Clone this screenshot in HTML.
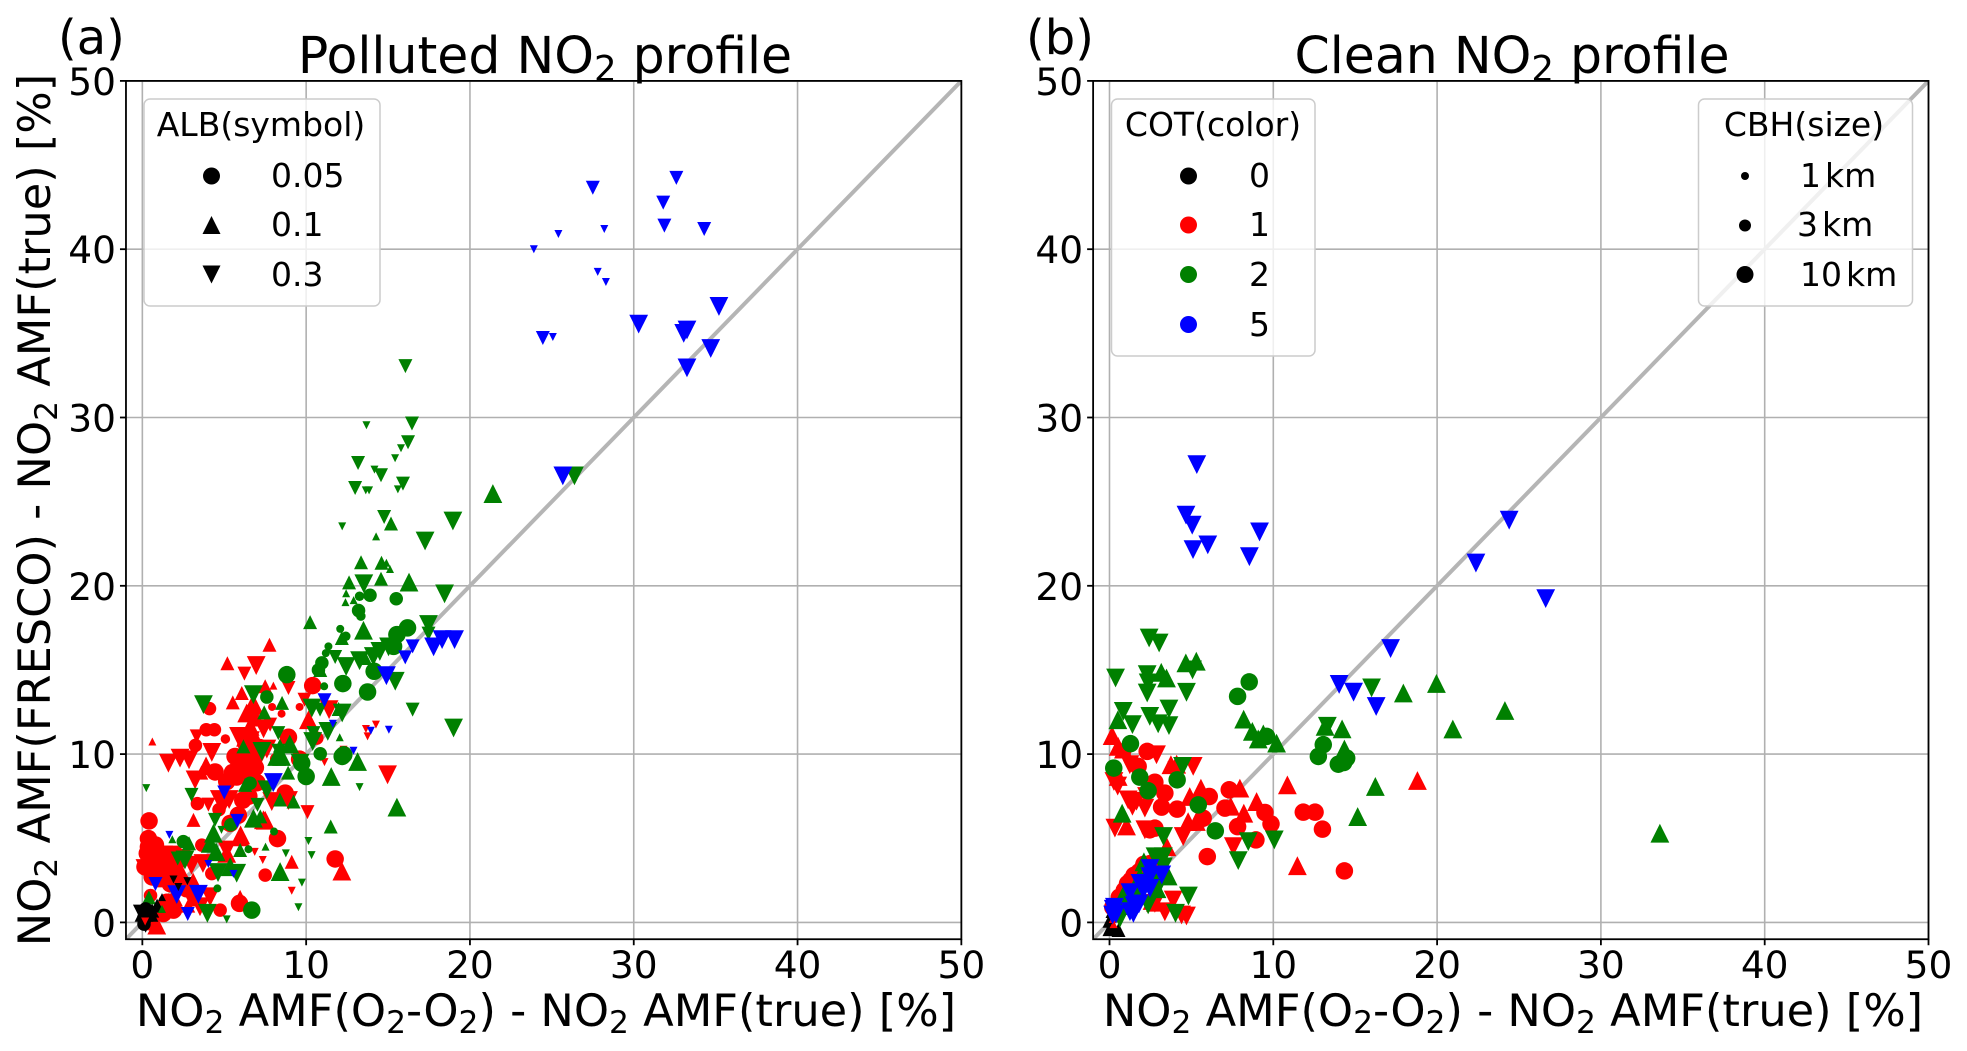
<!DOCTYPE html>
<html lang="en">
<head>
<meta charset="utf-8">
<title>NO2 AMF scatter comparison</title>
<style>
html,body{margin:0;padding:0;background:#fff;}
svg{display:block;font-family:"DejaVu Sans","Liberation Sans",sans-serif;}
</style>
</head>
<body>
<svg id="figure" xmlns="http://www.w3.org/2000/svg" width="1967" height="1051" viewBox="0 0 1967 1051">
  <rect x="0" y="0" width="1967" height="1051" fill="#fff"/>
  <defs>
    <clipPath id="clip-a"><rect x="126" y="81" width="835" height="858.5"/></clipPath>
    <clipPath id="clip-b"><rect x="1093.5" y="81" width="835.5" height="858.5"/></clipPath>
  </defs>
  <g id="panel-a"></g>
  <g id="panel-b"></g>

  <text x="58" y="54" font-size="48">(a)</text>
  <text x="1026" y="54" font-size="48">(b)</text>

  <text x="545" y="73" font-size="50.5" text-anchor="middle">Polluted NO<tspan dy="8" font-size="35.5">2</tspan><tspan dy="-8"> profile</tspan></text>
  <text x="1512" y="73" font-size="50.5" text-anchor="middle">Clean NO<tspan dy="8" font-size="35.5">2</tspan><tspan dy="-8"> profile</tspan></text>

  <text x="546" y="1026" font-size="44.7" text-anchor="middle">NO<tspan dy="7" font-size="31.3">2</tspan><tspan dy="-7"> AMF(O</tspan><tspan dy="7" font-size="31.3">2</tspan><tspan dy="-7">-O</tspan><tspan dy="7" font-size="31.3">2</tspan><tspan dy="-7">) - NO</tspan><tspan dy="7" font-size="31.3">2</tspan><tspan dy="-7"> AMF(true) [%]</tspan></text>
  <text x="1513" y="1026" font-size="44.7" text-anchor="middle">NO<tspan dy="7" font-size="31.3">2</tspan><tspan dy="-7"> AMF(O</tspan><tspan dy="7" font-size="31.3">2</tspan><tspan dy="-7">-O</tspan><tspan dy="7" font-size="31.3">2</tspan><tspan dy="-7">) - NO</tspan><tspan dy="7" font-size="31.3">2</tspan><tspan dy="-7"> AMF(true) [%]</tspan></text>
  <text transform="translate(50,510) rotate(-90)" font-size="44.7" text-anchor="middle">NO<tspan dy="7" font-size="31.3">2</tspan><tspan dy="-7"> AMF(FRESCO) - NO</tspan><tspan dy="7" font-size="31.3">2</tspan><tspan dy="-7"> AMF(true) [%]</tspan></text>

  <g id="legends">
    <g>
      <rect x="144" y="99" width="236" height="207" rx="6" fill="#fff" fill-opacity="0.8" stroke="#ccc" stroke-width="1.5"/>
      <text x="261" y="136" font-size="33" text-anchor="middle">ALB(symbol)</text>
      <circle cx="211.5" cy="176" r="8.5" fill="#000"/>
      <text x="271" y="187" font-size="33">0.05</text>
      <polygon points="211.5,216 220.5,234 202.5,234" fill="#000"/>
      <text x="271" y="236" font-size="33">0.1</text>
      <polygon points="202.5,265.5 220.5,265.5 211.5,283.5" fill="#000"/>
      <text x="271" y="286" font-size="33">0.3</text>
    </g>
    <g>
      <rect x="1111.5" y="99" width="203.5" height="257" rx="6" fill="#fff" fill-opacity="0.8" stroke="#ccc" stroke-width="1.5"/>
      <text x="1213" y="136" font-size="33" text-anchor="middle">COT(color)</text>
      <circle cx="1188.5" cy="176" r="8.5" fill="#000"/>
      <text x="1249" y="187" font-size="33">0</text>
      <circle cx="1188.5" cy="225" r="8.5" fill="#f00"/>
      <text x="1249" y="236" font-size="33">1</text>
      <circle cx="1188.5" cy="274.5" r="8.5" fill="#008000"/>
      <text x="1249" y="286" font-size="33">2</text>
      <circle cx="1188.5" cy="324.5" r="8.5" fill="#00f"/>
      <text x="1249" y="336" font-size="33">5</text>
    </g>
    <g>
      <rect x="1698.5" y="99" width="214" height="207" rx="6" fill="#fff" fill-opacity="0.8" stroke="#ccc" stroke-width="1.5"/>
      <text x="1804" y="136" font-size="33" text-anchor="middle">CBH(size)</text>
      <circle cx="1745" cy="176" r="4" fill="#000"/>
      <text x="1800" y="187" font-size="33">1<tspan dx="4">km</tspan></text>
      <circle cx="1745" cy="225.5" r="6" fill="#000"/>
      <text x="1797" y="236" font-size="33">3<tspan dx="4">km</tspan></text>
      <circle cx="1745" cy="274.5" r="8.5" fill="#000"/>
      <text x="1800" y="286" font-size="33">10<tspan dx="4">km</tspan></text>
    </g>
  </g>
</svg>

<script>
// Axis configuration
const tickValues = [0, 10, 20, 30, 40, 50];
const axisLimits = [-1, 50];

// Points are [x, y, cloudBaseHeightKm]
// ---------- Panel (a): polluted profile ----------
const pollutedRedCircle = [[0.41,6.03,10],[0.37,4.98,10],[0.37,4.49,10],[0.67,4,10],[0.47,3.5,10],[1.28,3.8,10],[0.16,3.3,10],[0.9,3.1,10],[0.3,4.1,10],[0.8,4.6,10],[1.1,3.3,10],[1.6,2.9,10],[0.6,2.7,10],[2.3,2.5,10],[1.7,2.3,10],[2.7,2.0,10],[3.24,10.52,3],[4.44,8.94,10],[5.76,8.64,10],[6.3,8.8,10],[5.36,5.88,10],[5.86,6.37,10],[6.13,7.26,10],[4.68,6.7,3],[3.36,7.06,3],[7.5,2.81,3],[8.25,4.98,10],[5.93,1.13,10],[4.75,0.73,3],[3.63,4.59,3],[4.24,2.9,3],[1.9,0.73,10],[1.28,0.53,10],[1.5,1.2,10],[0.5,1.6,3],[4.1,12.7,3],[3.9,11.45,3],[4.4,11.45,3],[5.07,10.9,2],[8.92,11,10],[10.4,14.07,10],[7.92,12.8,1],[8.5,12.4,1],[9.6,12.8,1],[10.65,10.95,3],[8.72,7.68,10],[5.15,8.37,10],[5.66,9.86,10],[6.6,9.9,10],[6.9,9.2,10],[7,8.3,10],[6.5,7.5,10],[11.77,3.77,10],[7.2,10.5,3],[6.2,10.6,3],[8.2,9.7,3],[9.6,9.7,10],[6.4,9.0,10],[5.9,9.4,10],[5.5,8.9,10]];
const pollutedRedUp = [[7.76,16.5,3],[5.19,15.4,3],[6.07,13.63,3],[5.52,13.07,3],[0.61,10.75,1],[3.89,9.3,10],[3.6,8.9,3],[3.12,6.09,3],[6,5.2,10],[9.12,3.6,3],[12.18,3.05,10],[5.97,1.52,3],[0.67,-0.06,3],[0.88,-0.16,10],[7.5,14.03,3],[8,14.07,1],[10.14,12.04,10],[6.37,12.44,10],[6.78,13,10],[6.58,11.65,10],[7.39,6.1,10],[7.5,6.07,10],[5.97,5.08,10],[1.28,3.3,10],[1.79,3.2,10],[2.5,2.7,10],[3.1,2.4,10],[2.8,1.0,3],[3.3,1.5,10],[1.9,1.5,10],[1.1,2.5,3],[5.15,4.1,10],[6.9,12.2,10],[6.3,11.0,10],[7.0,10.7,10],[6.7,12.9,10]];
const pollutedRedDown = [[6.95,15.26,10],[6.23,14.78,3],[8.92,13.93,3],[9.9,13.23,3],[1.59,9.46,10],[2.3,9.76,10],[2.85,9.66,10],[4.24,10.1,10],[3.22,8.47,10],[3.32,11.05,3],[5.87,11.05,10],[6.3,11.05,10],[7.8,11.75,3],[11.4,12.64,10],[14.97,8.77,10],[10.08,6.55,3],[7.9,7.18,10],[8.92,7.24,10],[4.03,7,3],[6.86,4.19,1],[7.35,3.71,1],[9.12,1.88,1],[13.65,11.49,1],[14.26,11.75,1],[13.75,11.05,1],[12.28,10.26,1],[11.12,9.52,1],[10.9,9.8,1],[0.16,3.2,10],[0.67,3.5,10],[1.38,3.6,3],[1.9,4,10],[1.3,4.0,10],[2.4,3.8,10],[3.7,3.5,10],[5.15,4.3,10],[4.14,1.52,10],[3.52,0.93,10],[2.9,1.6,10],[0.5,2.9,3],[0.2,0,3],[7.1,9.7,10],[7.6,10.3,10],[6.6,10.8,10],[7.4,11.5,10],[5.3,7.3,10],[4.7,7.3,10],[5.0,7.1,10],[3.0,3.4,10],[2.2,3.2,10]];
const pollutedGreenCircle = [[13.9,19.44,3],[13.26,19.38,2],[15.5,19.23,3],[13.2,18.53,3],[13.34,18.2,2],[12.08,17.44,1],[12.42,17,2],[16.19,17.5,10],[15.54,17.1,10],[11.36,16.4,1],[11.2,16,1],[10.96,15.42,3],[10.75,15,3],[12.24,14.19,10],[13.75,13.69,10],[11.1,14.03,1],[14.15,14.92,10],[15.34,16.4,10],[8.82,14.72,10],[7.6,13.39,3],[10.86,10.02,3],[12.3,9.96,10],[12.2,9.86,10],[9.73,9.46,10],[10,8.67,10],[6.68,0.73,10],[2.5,4.8,3],[4.58,2.02,1],[6.58,8.27,3],[5.4,5.8,3],[6.48,4.35,1],[8.04,5.4,1]];
const pollutedGreenUp = [[21.4,25.48,10],[15.18,23.7,3],[14.27,22.94,1],[13.35,21.4,3],[14.6,21.37,3],[14.9,21.37,1],[15.12,21,1],[14.57,20.42,3],[12.62,20.2,3],[16.28,20.22,10],[12.44,19.56,1],[12.4,19.03,1],[12.9,19.15,1],[10.24,17.84,3],[13.5,17.36,10],[12.18,16.9,3],[7.44,12.48,3],[8.53,13.04,3],[11.98,12.68,3],[13.6,15.71,3],[10.86,15,3],[15.54,6.85,10],[11.5,5.7,3],[13.14,9.56,10],[11.53,8.67,10],[6.17,10.46,3],[6.27,8.17,3],[9.23,7.18,3],[8.4,7.3,3],[6.78,6.19,10],[7.2,6.3,3],[4.34,5.3,10],[4.14,4.7,10],[4.5,4.2,10],[5.36,3.31,10],[5.97,4.3,3],[8.41,3.02,10],[2.85,4.7,3],[7.52,4.5,1],[1.83,4.94,1],[0.4,1.49,3],[8.2,9.86,10],[8.5,9.86,10],[8.4,10.5,3],[12.05,11.0,1],[9.0,10.6,10],[8.9,8.9,3]];
const pollutedGreenDown = [[16.06,33.05,3],[16.46,29.64,3],[13.68,29.54,1],[16.22,28.53,3],[15.79,28.17,1],[15.43,27.58,1],[13.17,27.3,3],[14.17,26.9,1],[14.57,26.57,3],[12.99,25.81,3],[13.64,25.67,1],[13.84,25.67,1],[15.91,26.07,3],[15.6,25.73,1],[14.76,24.09,3],[12.2,23.53,1],[18.96,23.85,10],[17.26,22.66,10],[13.52,20.12,10],[18.45,19.52,10],[17.47,17.7,10],[17.47,17.16,3],[14.5,16.1,10],[15.03,16.37,10],[14.1,15.8,10],[13.26,15.55,10],[11.77,15.77,3],[12.44,15.2,10],[15.44,14.33,10],[16.5,12.64,3],[19,11.55,10],[11.32,11.35,10],[10.35,12.74,10],[10.85,12.64,3],[12.2,12.44,10],[10.45,11.25,3],[10.4,10.75,10],[6.78,13.53,10],[3.73,12.94,10],[7.3,10.16,10],[8.3,11.25,3],[9.63,9.46,10],[8.3,10.2,3],[13.26,8.04,1],[0.24,7.98,1],[3,7.58,3],[4.44,6.09,3],[4.83,5.5,1],[2.6,3.71,10],[2.16,3.8,3],[4.62,2.96,10],[5.76,2.92,10],[3.97,0.54,10],[5.15,0.18,1],[9.53,0.9,1],[9.74,2.36,1],[10.33,4,1],[10.14,4.84,1],[8.76,4.1,1],[7.03,6.98,3],[7.6,7.88,10],[26.38,26.53,10]];
const pollutedBlueDown = [[32.6,44.24,3],[27.5,43.65,3],[31.8,42.77,3],[31.87,41.4,3],[34.3,41.2,3],[28.2,41.2,1],[25.4,40.9,1],[23.9,40,1],[27.8,38.65,1],[28.3,38.05,1],[35.2,36.6,10],[30.3,35.55,10],[33.25,35.2,10],[33.05,35,10],[34.7,34.1,10],[33.25,32.95,10],[24.45,34.72,3],[25.06,34.78,1],[25.67,26.53,10],[11.12,13.2,3],[11.63,11.8,1],[13.95,11.39,1],[15.05,11.45,1],[12.89,10.2,1],[16.5,16.4,3],[16.05,15.75,3],[17.78,16.37,10],[18.3,16.8,10],[19.06,16.8,10],[14.9,14.66,10],[8,8.31,10],[5,7.72,3],[5.8,6.03,3],[1.65,5.2,1],[4.03,3.47,1],[5.56,2.88,1],[0.8,2.28,3],[2.1,1.65,10],[3.42,1.67,10],[2.77,0.5,3]];
const pollutedBlackCircle = [[0.1,0.3,3],[0.3,0.5,3],[0.2,0.8,3],[0.1,-0.1,3]];
const pollutedBlackUp = [[0.1,0.6,10],[0.6,0.7,3],[0.9,1,3],[1.2,1.5,1],[0.4,0.6,10]];
const pollutedBlackDown = [[0,0.5,10],[0.3,0.2,10],[0.2,-0.2,3],[2.75,2.45,1],[1.9,2.55,1],[2.2,2.1,1]];
const pollutedRedTopDown = [[0.17,0.05,1]];
const pollutedGreenTopUp = [[1.2,0.8,1]];

// ---------- Panel (b): clean profile ----------
const cleanBlackUp = [[0,0.1,3],[0.25,-0.3,3],[0.55,-0.45,3],[0,-0.4,3],[0,0.5,1]];
const cleanRedCircle = [[2.3,10.16,10],[1.75,9.27,10],[2.77,8.33,10],[3.38,7.68,10],[3.18,6.85,10],[4.13,6.73,10],[2.46,5.5,10],[2.77,5.6,10],[6.09,7.48,10],[7.31,7.88,10],[7.05,6.79,10],[5.72,6.19,10],[7.82,5.69,10],[8.94,4.9,10],[9.49,6.53,10],[9.86,5.85,10],[11.83,6.55,10],[12.55,6.55,10],[13,5.54,10],[5.97,3.91,10],[14.34,3.06,10],[2,3.2,10],[1.5,2.8,10],[1.1,2.3,10],[0.6,1.5,10],[0.2,0.9,10],[2.1,3.45,10],[2.5,3.5,10],[0.9,1.9,10],[1.3,2.5,10],[1.8,3.0,10]];
const cleanRedUp = [[0.16,11.1,10],[0.53,10.46,10],[0.85,10.3,10],[1.04,5.73,10],[0.53,8.67,10],[3.75,9.37,10],[4.1,9.4,10],[5.58,7.98,10],[4.9,7.48,10],[4.8,5.99,10],[5.3,6,10],[7.96,7.98,10],[7.4,6.9,10],[8.98,7.18,10],[8.2,6.49,10],[10.86,8.17,10],[18.8,8.43,10],[11.47,3.37,10],[3.5,4.5,10],[2.6,1.3,10],[2.8,1.2,10],[0.2,0.2,1],[0.25,-0.1,1]];
const cleanRedDown = [[5.11,9.27,10],[1,10,10],[2.87,9.96,10],[1.24,9.37,10],[0.27,8.37,10],[0.5,8.1,10],[1.14,7.28,10],[1.65,7.2,10],[2.16,6.79,10],[2.26,7.48,10],[0.33,5.6,10],[2.16,5.5,10],[4.5,5.1,10],[7.56,4.5,10],[3.89,1.33,10],[3.38,0.63,10],[4.7,0.38,10],[4.4,0.44,10],[2.77,1.13,10],[4.1,9.0,10],[1.4,6.9,10]];
const cleanGreenCircle = [[8.53,14.29,10],[7.82,13.43,10],[1.28,10.62,10],[0.26,9.17,10],[1.85,8.63,10],[2.36,7.82,10],[4.13,8.47,10],[5.42,6.98,10],[6.46,5.44,10],[9.59,11.05,10],[13.05,10.56,10],[12.75,9.86,10],[13.97,9.4,10],[14.48,9.76,10],[14.3,9.5,10]];
const cleanGreenUp = [[3.16,14.86,10],[3.48,14.52,10],[4.66,15.42,10],[5.3,15.52,10],[0.51,12.04,10],[8.19,12.08,10],[8.72,11.35,10],[9.39,11.2,10],[9.08,10.9,10],[10.2,10.65,10],[13.16,11.65,10],[14.2,11.5,10],[14.34,10.3,10],[17.94,13.63,10],[19.96,14.2,10],[16.23,8.08,10],[15.15,6.29,10],[0.77,6.49,10],[3.58,2.76,10],[24.14,12.59,10],[20.96,11.49,10],[33.6,5.3,10],[0.85,1.63,10],[1.45,1.55,10],[1.85,2.7,10],[2.1,3.6,10],[2.9,2.0,10],[0.9,1.0,10],[1.2,1.3,10],[1.6,2.0,10],[2.3,2.9,10],[2.5,3.2,10]];
const cleanGreenDown = [[2.42,16.9,10],[3.03,16.6,10],[0.37,14.52,10],[2.3,14.72,10],[2.36,14.23,10],[2.3,13.63,10],[4.7,13.67,10],[0.84,12.54,10],[2.46,12.24,10],[1.4,11.75,10],[2.97,11.8,10],[3.63,12.68,10],[3.63,11.69,10],[5.07,15,10],[16,13.93,10],[13.3,11.65,10],[4.46,9.27,10],[3.3,5.1,10],[8.47,4.8,10],[10.06,4.9,10],[7.86,3.67,10],[2.78,3.9,10],[3.29,3.9,10],[4.82,1.57,10],[4.03,0.54,10],[2.36,1.04,10],[2.97,2.12,10],[0.64,0.25,10],[2.98,2.32,10],[3.29,3.3,10]];
const cleanBlueDown = [[5.33,27.2,10],[4.67,24.2,10],[5.05,23.6,10],[5.1,22.15,10],[6,22.43,10],[8.54,21.73,10],[9.16,23.2,10],[24.4,23.9,10],[22.37,21.35,10],[26.63,19.24,10],[17.16,16.27,10],[14.02,14.14,10],[14.9,13.68,10],[16.28,12.83,10],[0.23,0.78,10],[0.19,0.44,10],[2.47,3.2,10],[3.19,2.82,10],[2.47,2.72,10],[1.86,2.32,10],[2.07,1.93,10],[1.25,1.77,10],[1.66,0.94,10],[1.46,0.54,10],[1.25,0.64,10],[2.47,2.02,10],[0.3,0.9,10],[0.4,0.5,10],[1.5,1.0,10],[1.8,1.1,10]];

// Category colours and marker sizes by value
const cotColors = {0:'#000000', 1:'#ff0000', 2:'#008000', 5:'#0000ff'};
const circleSizes = {1:8, 2:9.5, 3:13.5, 10:17.5};
const triangleSizes = {1:8, 2:9.5, 3:14, 10:18.8};

const panelAGroups = [
  ['red-circle', pollutedRedCircle, 1, 'circle'],
  ['red-up', pollutedRedUp, 1, 'up'],
  ['red-down', pollutedRedDown, 1, 'down'],
  ['green-circle', pollutedGreenCircle, 2, 'circle'],
  ['green-up', pollutedGreenUp, 2, 'up'],
  ['green-down', pollutedGreenDown, 2, 'down'],
  ['blue-down', pollutedBlueDown, 5, 'down'],
  ['black-circle', pollutedBlackCircle, 0, 'circle'],
  ['black-up', pollutedBlackUp, 0, 'up'],
  ['black-down', pollutedBlackDown, 0, 'down'],
  ['red-top-down', pollutedRedTopDown, 1, 'down'],
  ['green-top-up', pollutedGreenTopUp, 2, 'up']
];
const panelBGroups = [
  ['black-up', cleanBlackUp, 0, 'up'],
  ['red-circle', cleanRedCircle, 1, 'circle'],
  ['red-up', cleanRedUp, 1, 'up'],
  ['red-down', cleanRedDown, 1, 'down'],
  ['green-circle', cleanGreenCircle, 2, 'circle'],
  ['green-up', cleanGreenUp, 2, 'up'],
  ['green-down', cleanGreenDown, 2, 'down'],
  ['blue-down', cleanBlueDown, 5, 'down']
];

const NS = 'http://www.w3.org/2000/svg';
function makeXScale(originPx){ return function(v){ return originPx + v * 16.38; }; }
function yScale(v){ return 922.4 - v * 16.83; }

function svgEl(tag, attrs, parent){
  const el = document.createElementNS(NS, tag);
  for (const k in attrs) el.setAttribute(k, attrs[k]);
  parent.appendChild(el);
  return el;
}

function drawPanel(parent, key, xScale, groups, clipId){
  const left = xScale(axisLimits[0]), right = xScale(axisLimits[1]);
  const bottom = yScale(axisLimits[0]), top = yScale(axisLimits[1]);

  // grid
  tickValues.forEach(function(t){
    const gv = svgEl('line', {x1:xScale(t), x2:xScale(t), y1:top, y2:bottom, stroke:'#b0b0b0', 'stroke-width':1.6}, parent);
    
    
    const gh = svgEl('line', {x1:left, x2:right, y1:yScale(t), y2:yScale(t), stroke:'#b0b0b0', 'stroke-width':1.6}, parent);
    
    
  });

  const plot = svgEl('g', {'clip-path':'url(#' + clipId + ')'}, parent);
  
  

  // 1:1 line
  const diag = svgEl('line', {x1:xScale(axisLimits[0]), y1:yScale(axisLimits[0]), x2:xScale(axisLimits[1]), y2:yScale(axisLimits[1]), stroke:'#b5b5b5', 'stroke-width':4}, plot);
  
  

  // markers
  groups.forEach(function(g){
    const color = cotColors[g[2]];
    g[1].forEach(function(p){
      const cx = xScale(p[0]), cy = yScale(p[1]);
      let m;
      if (g[3] === 'circle') {
        const d = circleSizes[p[2]];
        m = svgEl('circle', {cx:cx, cy:cy, r:d/2, fill:color}, plot);
      } else if (g[3] === 'up') {
        const s = triangleSizes[p[2]];
        m = svgEl('polygon', {points:cx+','+(cy-s/2)+' '+(cx+s/2)+','+(cy+s/2)+' '+(cx-s/2)+','+(cy+s/2), fill:color}, plot);
      } else {
        const s = triangleSizes[p[2]];
        m = svgEl('polygon', {points:(cx-s/2)+','+(cy-s/2)+' '+(cx+s/2)+','+(cy-s/2)+' '+cx+','+(cy+s/2), fill:color}, plot);
      }
      
      
    });
  });

  // spines
  const frame = svgEl('rect', {x:left, y:top, width:right-left, height:bottom-top, fill:'none', stroke:'#000', 'stroke-width':1.8}, parent);
  
  

  // ticks + labels
  tickValues.forEach(function(t){
    const tx = svgEl('line', {x1:xScale(t), x2:xScale(t), y1:bottom, y2:bottom+6, stroke:'#000', 'stroke-width':1.8}, parent);
    
    
    const ty = svgEl('line', {x1:left-6, x2:left, y1:yScale(t), y2:yScale(t), stroke:'#000', 'stroke-width':1.8}, parent);
    
    
    const lx = svgEl('text', {x:xScale(t), y:978, 'font-size':37.5, 'text-anchor':'middle'}, parent);
    
    
    lx.textContent = String(t);
    const ly = svgEl('text', {x:left-10, y:yScale(t)+14, 'font-size':37.5, 'text-anchor':'end'}, parent);
    
    
    ly.textContent = String(t);
  });
}

drawPanel(document.getElementById('panel-a'), 'a', makeXScale(142.35), panelAGroups, 'clip-a');
drawPanel(document.getElementById('panel-b'), 'b', makeXScale(1109.5), panelBGroups, 'clip-b');
</script>
</body>
</html>
